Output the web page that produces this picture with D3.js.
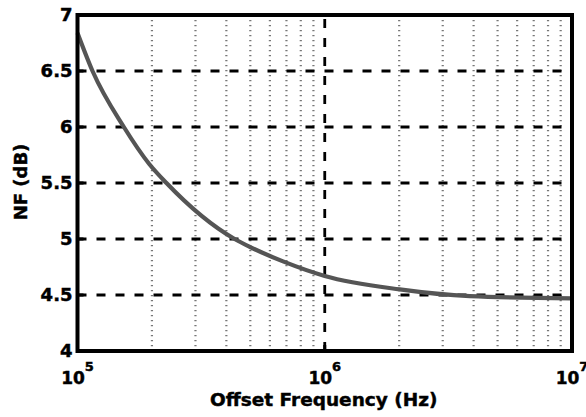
<!DOCTYPE html>
<html>
<head>
<meta charset="utf-8">
<script src="https://cdn.jsdelivr.net/npm/d3@7"></script>
<style>
  html, body { margin: 0; padding: 0; background: #fff; }
  svg text { font-family: "DejaVu Sans", "Liberation Sans", Arial, sans-serif; font-weight: bold; fill: #000; stroke: #000; stroke-width: 0.45px; }
</style>
</head>
<body>
<svg width="586" height="417"></svg>
<script>
// data
const freq = [1e5, 1.15e5, 1.54e5, 1.95e5, 2.29e5, 4.32e5, 4.97e5, 6.78e5, 1e6, 2.01e6, 3.86e6, 1e7];
const nf = [6.84, 6.5, 6.0, 5.67, 5.5, 5.0, 4.93, 4.80, 4.67, 4.55, 4.49, 4.47];
const yTicks = [4, 4.5, 5, 5.5, 6, 6.5, 7];
const yTickLabels = ["4", "4.5", "5", "5.5", "6", "6.5", "7"];
const xTicks = [1e5, 1e6, 1e7];
const xTickExps = ["5", "6", "7"];
const minorMult = [2, 3, 4, 5, 6, 7, 8, 9];
const xTitle = "Offset Frequency (Hz)";
const yTitle = "NF (dB)";

const svg = d3.select("svg");
const pLeft = 77.5, pRight = 572, pTop = 15, pBottom = 351;

const x = d3.scaleLog().domain([1e5, 1e7]).range([pLeft, pRight]);
const y = d3.scaleLinear().domain([4, 7]).range([pBottom, pTop]);

svg.append("rect").attr("width", 586).attr("height", 417).attr("fill", "#fff");

// minor vertical grid (dotted gray)
const minors = [];
[1e5, 1e6].forEach(dec => minorMult.forEach(m => minors.push(dec * m)));
svg.append("g").selectAll("line").data(minors).join("line")
    .attr("x1", d => x(d)).attr("x2", d => x(d))
    .attr("y1", pTop).attr("y2", pBottom)
    .attr("stroke", "#777").attr("stroke-width", 2.2)
    .attr("stroke-dasharray", "1.3,3.7");

// major horizontal grid
svg.append("g").selectAll("line").data(yTicks.slice(1, -1)).join("line")
    .attr("x1", pLeft).attr("x2", pRight)
    .attr("y1", d => y(d)).attr("y2", d => y(d))
    .attr("stroke", "#000").attr("stroke-width", 2.8)
    .attr("stroke-dasharray", "9,10");

// major vertical grid (inner decade)
svg.append("g").selectAll("line").data(xTicks.slice(1, -1)).join("line")
    .attr("x1", d => x(d)).attr("x2", d => x(d))
    .attr("y1", pBottom).attr("y2", pTop)
    .attr("stroke", "#000").attr("stroke-width", 2.8)
    .attr("stroke-dasharray", "9,10");

// curve
const pts = freq.map((f, i) => ({ f, v: nf[i] }));
const line = d3.line().x(d => x(d.f)).y(d => y(d.v)).curve(d3.curveMonotoneX);
svg.append("path").datum(pts)
    .attr("d", line)
    .attr("fill", "none")
    .attr("stroke", "#555")
    .attr("stroke-width", 4.2);

// ticks inside the box
svg.append("g").selectAll("line").data(yTicks).join("line")
    .attr("x1", pLeft).attr("x2", pLeft + 6)
    .attr("y1", d => y(d)).attr("y2", d => y(d))
    .attr("stroke", "#000").attr("stroke-width", 3);
svg.append("g").selectAll("line").data(xTicks).join("line")
    .attr("x1", d => x(d)).attr("x2", d => x(d))
    .attr("y1", pBottom).attr("y2", pBottom - 6)
    .attr("stroke", "#000").attr("stroke-width", 3);

// frame
svg.append("rect")
    .attr("x", pLeft).attr("y", pTop)
    .attr("width", pRight - pLeft).attr("height", pBottom - pTop)
    .attr("fill", "none").attr("stroke", "#000").attr("stroke-width", 4);

// y tick labels
svg.append("g").selectAll("text").data(yTicks).join("text")
    .attr("x", pLeft - 5)
    .attr("y", d => y(d))
    .attr("dy", "0.36em")
    .attr("text-anchor", "end")
    .attr("font-size", 18)
    .text((d, i) => yTickLabels[i]);

// x tick labels: 10^n
const xl = svg.append("g").selectAll("text").data(xTicks).join("text")
    .attr("x", d => x(d))
    .attr("y", 384)
    .attr("text-anchor", "middle")
    .attr("font-size", 17);
xl.append("tspan").text("10");
xl.append("tspan").attr("dy", -13).attr("font-size", 13).text((d, i) => xTickExps[i]);

// axis titles
svg.append("text")
    .attr("x", (pLeft + pRight) / 2 - 1)
    .attr("y", 406)
    .attr("text-anchor", "middle")
    .attr("font-size", 18.5)
    .text(xTitle);

svg.append("text")
    .attr("transform", `translate(27,${(pTop + pBottom) / 2 - 1}) rotate(-90)`)
    .attr("text-anchor", "middle")
    .attr("font-size", 18)
    .text(yTitle);
</script>
</body>
</html>
